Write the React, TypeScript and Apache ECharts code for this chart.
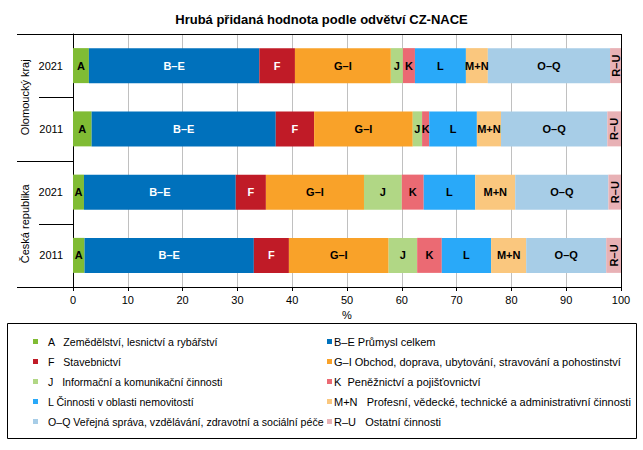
import React, { useEffect, useRef } from "react";
import * as echarts from "echarts";

const chartTitle = "Hrubá přidaná hodnota podle odvětví CZ-NACE";
const categories = ["Olomoucký kraj 2021", "Olomoucký kraj 2011", "Česká republika 2021", "Česká republika 2011"];
const yearLabels = ["2021", "2011", "2021", "2011"];
const groupNames = ["Olomoucký kraj", "Česká republika"];
const groupRanges = [[0, 1], [2, 3]];
const xTicks = [0, 10, 20, 30, 40, 50, 60, 70, 80, 90, 100];

const codes = ["A", "B–E", "F", "G–I", "J", "K", "L", "M+N", "O–Q", "R–U"];
const legendNames = [
  "A   Zemědělství, lesnictví a rybářství",
  "B–E Průmysl celkem",
  "F   Stavebnictví",
  "G–I Obchod, doprava, ubytování, stravování a pohostinství",
  "J   Informační a komunikační činnosti",
  "K  Peněžnictví a pojišťovnictví",
  "L Činnosti v oblasti nemovitostí",
  "M+N   Profesní, vědecké, technické a administrativní činnosti",
  "O–Q Veřejná správa, vzdělávání, zdravotní a sociální péče",
  "R–U   Ostatní činnosti",
];
const colors = ["#80BC34", "#0071BC", "#C01B27", "#F9A229", "#B1D785", "#EB6A73", "#29A9F9", "#FAC77E", "#A7CDE7", "#E8B1B5"];
const whiteLabel = [false, true, true, false, false, false, false, false, false, false];

// values in %, order of categories
const valA = [2.9, 3.4, 2.0, 2.1];
const valBE = [31.1, 33.6, 27.7, 30.9];
const valF = [6.5, 7.0, 5.5, 6.4];
const valGI = [17.5, 18.0, 17.9, 18.2];
const valJ = [2.2, 1.7, 6.9, 5.2];
const valK = [2.2, 1.3, 4.0, 4.5];
const valL = [9.3, 8.7, 9.4, 9.0];
const valMN = [4.0, 4.4, 7.3, 6.4];
const valOQ = [22.3, 19.4, 17.0, 14.6];
const valRU = [2.0, 2.5, 2.3, 2.7];
const seriesValues = [valA, valBE, valF, valGI, valJ, valK, valL, valMN, valOQ, valRU];

const leftLegend = [0, 2, 4, 6, 8];
const rightLegend = [1, 3, 5, 7, 9];

const FONT = "'Liberation Sans', Arial, sans-serif";

export default function App() {
  const ref = useRef<HTMLDivElement>(null);
  useEffect(() => {
    document.body.style.margin = "0";
    const chart = echarts.init(ref.current!, null, { renderer: "svg" });
    const gridL = 73, gridR = 22, gridT = 34, gridB = 163;
    const legendBase = {
      orient: "vertical",
      top: 335,
      padding: 0,
      itemWidth: 5,
      itemHeight: 5,
      itemGap: 7,
      icon: "rect",
    };
    const option: any = {
      animation: false,
      backgroundColor: "#ffffff",
      textStyle: { fontFamily: FONT },
      title: {
        text: chartTitle,
        left: "center",
        top: 8,
        textStyle: { fontFamily: FONT, fontSize: 13, fontWeight: "bold", color: "#000" },
      },
      grid: { left: gridL, right: gridR, top: gridT, bottom: gridB },
      legend: [
        {
          ...legendBase,
          left: 33,
          data: leftLegend.map((i) => legendNames[i]),
          formatter: (name: string) => `{t|${name}}`,
          textStyle: {
            fontFamily: FONT,
            fontSize: 11,
            color: "#000",
            lineHeight: 13,
            padding: [0, 0, 0, 5],
            rich: { t: { fontFamily: FONT, fontSize: 10.6, color: "#000", lineHeight: 13 } },
          },
        },
        {
          ...legendBase,
          left: 327,
          data: rightLegend.map((i) => legendNames[i]),
          textStyle: { fontFamily: FONT, fontSize: 11, color: "#000", lineHeight: 13, padding: [0, 0, 0, -3] },
        },
      ],
      xAxis: {
        type: "value",
        min: xTicks[0],
        max: xTicks[xTicks.length - 1],
        interval: 10,
        name: "%",
        nameLocation: "middle",
        nameGap: 21,
        nameTextStyle: { fontFamily: FONT, fontSize: 11, color: "#000" },
        axisLine: { show: true, lineStyle: { color: "#000", width: 1 } },
        axisTick: { show: true, length: 4, lineStyle: { color: "#000" } },
        axisLabel: { fontFamily: FONT, fontSize: 11, color: "#000", margin: 7 },
        splitLine: { show: true, lineStyle: { color: "#c0c0c0", width: 1 } },
      },
      yAxis: {
        type: "category",
        inverse: true,
        data: categories,
        axisLine: { show: true, lineStyle: { color: "#000", width: 1 } },
        axisTick: { show: false },
        axisLabel: {
          fontFamily: FONT,
          fontSize: 11,
          color: "#000",
          margin: 10,
          formatter: (_v: string, idx: number) => yearLabels[idx],
        },
      },
      series: codes.map((code, i) => ({
        type: "bar",
        name: legendNames[i],
        stack: "total",
        barWidth: 35,
        data: seriesValues[i],
        itemStyle: { color: colors[i] },
        label: {
          show: true,
          position: "inside",
          formatter: () => code,
          fontFamily: FONT,
          fontSize: 11,
          fontWeight: "bold",
          color: whiteLabel[i] ? "#fff" : "#000",
          rotate: code === "R–U" ? 90 : 0,
          textBorderWidth: 0,
        },
        emphasis: { disabled: true },
      })),
    };
    chart.setOption(option);

    // decorations computed from the axes
    const px = (cat: number) => (chart.convertToPixel({ yAxisIndex: 0 }, categories[cat]) as number);
    const xPx = (v: number) => (chart.convertToPixel({ xAxisIndex: 0 }, v) as number);
    const x0 = xPx(0), x100 = xPx(100);
    const top = gridT, bottom = 450 - gridB;
    const farLeft = 17, midLeft = 39;
    const graphics: any[] = [];
    const line = (x1: number, y1: number, x2: number, y2: number) => ({
      type: "line",
      shape: { x1, y1, x2, y2 },
      style: { stroke: "#000", lineWidth: 1 },
      z: 100,
    });
    graphics.push(line(farLeft, top + 0.5, x100, top + 0.5));
    graphics.push(line(farLeft, bottom + 0.5, x0, bottom + 0.5));
    graphics.push(line(x100 + 0.5, top, x100 + 0.5, bottom));
    for (let c = 0; c < categories.length - 1; c++) {
      const y = Math.round((px(c) + px(c + 1)) / 2) + 0.5;
      const isGroupBoundary = groupRanges.some((r) => r[1] === c);
      graphics.push(line(isGroupBoundary ? farLeft : midLeft, y, x0, y));
    }
    groupRanges.forEach((r, gi) => {
      const yc = (px(r[0]) + px(r[1])) / 2;
      graphics.push({
        type: "text",
        x: 25,
        y: yc,
        rotation: Math.PI / 2,
        style: {
          text: groupNames[gi],
          fontFamily: FONT,
          fontSize: 11,
          fill: "#000",
          textAlign: "center",
          textVerticalAlign: "middle",
        },
        z: 100,
      });
    });
    graphics.push({
      type: "rect",
      shape: { x: 7.5, y: 323.5, width: 629, height: 115 },
      style: { fill: "none", stroke: "#000", lineWidth: 1 },
      z: 100,
    });
    chart.setOption({ graphic: graphics });

    return () => chart.dispose();
  }, []);
  return <div ref={ref} style={{ width: 643, height: 450 }} />;
}
